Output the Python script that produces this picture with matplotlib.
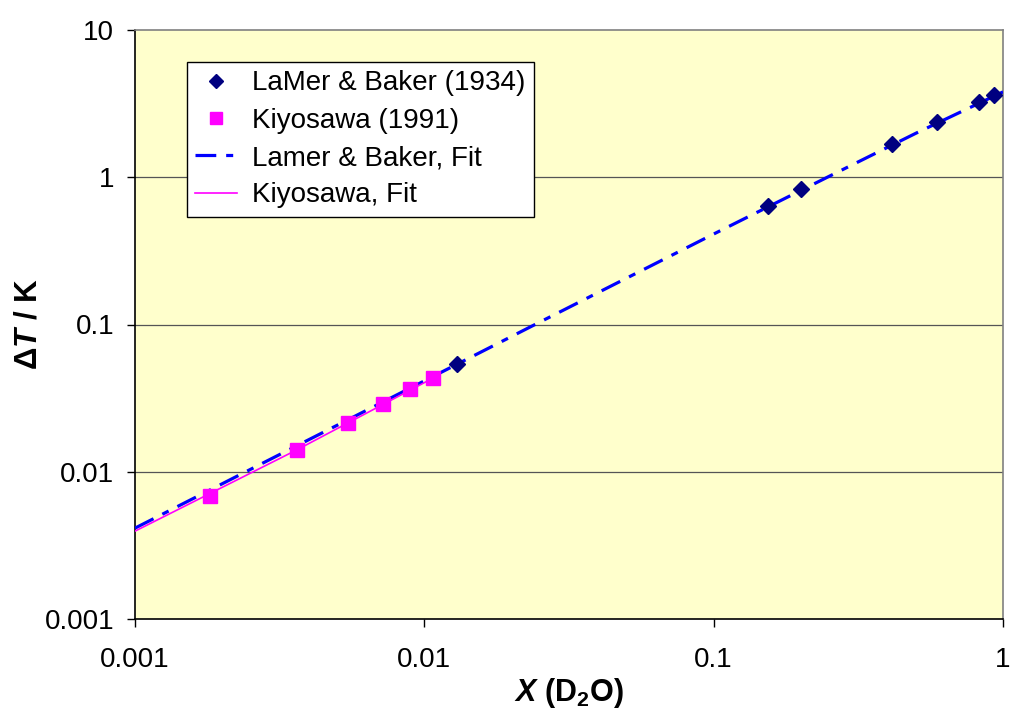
import matplotlib
matplotlib.use("Agg")
import matplotlib.pyplot as plt
from matplotlib.ticker import FixedLocator, FixedFormatter, NullLocator

plt.rcParams['font.family'] = ['Liberation Sans', 'DejaVu Sans']
plt.rcParams['mathtext.fontset'] = 'custom'
plt.rcParams['mathtext.it'] = 'Liberation Sans:italic:bold'
plt.rcParams['mathtext.rm'] = 'Liberation Sans:bold'
plt.rcParams['mathtext.bf'] = 'Liberation Sans:bold'

# Data
lamer_x = [0.0130, 0.154, 0.200, 0.414, 0.591, 0.827, 0.932]
lamer_y = [0.0538, 0.637, 0.832, 1.68, 2.37, 3.24, 3.61]

kiyo_x = [0.00182, 0.00363, 0.00545, 0.00719, 0.00893, 0.01072]
kiyo_y = [0.00683, 0.01403, 0.0214, 0.0288, 0.0364, 0.0432]

lamer_fit_x = [0.001, 0.01, 0.0238, 0.1, 0.247, 0.5, 1.0]
lamer_fit_y = [0.00414, 0.0414, 0.0986, 0.4115, 1.0, 1.99, 3.80]

kiyo_fit_x = [0.001, 0.00363, 0.0107]
kiyo_fit_y = [0.00395, 0.0141, 0.0432]

x_ticks = [0.001, 0.01, 0.1, 1]
x_labels = ['0.001', '0.01', '0.1', '1']
y_ticks = [0.001, 0.01, 0.1, 1, 10]
y_labels = ['0.001', '0.01', '0.1', '1', '10']

fig = plt.figure(figsize=(10.10, 7.11), dpi=100)
ax = fig.add_axes([135/1010, 92/711, (1003-135)/1010, (619-30)/711])
ax.set_facecolor('#FFFFCC')

ax.set_xscale('log')
ax.set_yscale('log')
ax.set_xlim(0.001, 1)
ax.set_ylim(0.001, 10)

for yv in y_ticks[1:-1]:
    ax.axhline(yv, color='#555555', lw=0.9, zorder=1)

l1, = ax.plot(lamer_x, lamer_y, linestyle='none', marker='D', ms=8.5,
              color='#000080', label='LaMer & Baker (1934)', zorder=4)
l2, = ax.plot(kiyo_x, kiyo_y, linestyle='none', marker='s', ms=10,
              color='#FF00FF', label='Kiyosawa (1991)', zorder=4)
l3, = ax.plot(lamer_fit_x, lamer_fit_y, color='#0000FF', lw=2.3,
              dashes=(6.5, 3.1, 2.2, 3.1), label='Lamer & Baker, Fit', zorder=3)
l4, = ax.plot(kiyo_fit_x, kiyo_fit_y, color='#FF00FF', lw=1.2,
              label='Kiyosawa, Fit', zorder=3)

ax.xaxis.set_major_locator(FixedLocator(x_ticks))
ax.xaxis.set_major_formatter(FixedFormatter(x_labels))
ax.xaxis.set_minor_locator(NullLocator())
ax.yaxis.set_major_locator(FixedLocator(y_ticks))
ax.yaxis.set_major_formatter(FixedFormatter(y_labels))
ax.yaxis.set_minor_locator(NullLocator())
ax.tick_params(axis='both', which='major', direction='out', length=5.5,
               width=1, color='#000000', labelsize=20)
ax.tick_params(axis='y', pad=9.5)
ax.tick_params(axis='x', pad=15)

for side in ['top', 'right']:
    ax.spines[side].set_color('#808080')
    ax.spines[side].set_linewidth(1.2)
for side in ['left', 'bottom']:
    ax.spines[side].set_color('#000000')
    ax.spines[side].set_linewidth(1.2)

ax.set_ylabel(r'$\mathit{\Delta T}$ / K', fontsize=22.5, fontweight='bold', labelpad=1)
ax.set_xlabel(r'$\mathit{X}$ (D$_2$O)', fontsize=22, fontweight='bold', labelpad=2)

leg = ax.legend(handles=[l1, l2, l3, l4], loc='upper left',
                bbox_to_anchor=((187-135)/868, (619-62)/589),
                fontsize=20, frameon=True, fancybox=False, framealpha=1,
                edgecolor='#000000', facecolor='white', borderpad=0.3,
                labelspacing=0.41, handlelength=1.5, handletextpad=0.55,
                borderaxespad=0, markerscale=0.8)
leg.get_frame().set_linewidth(1.0)

fig.savefig('out.png', dpi=100, facecolor='white')
